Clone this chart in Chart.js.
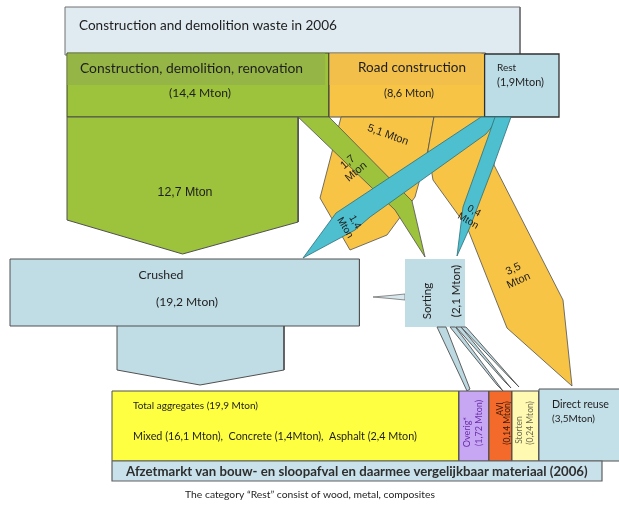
<!DOCTYPE html>
<html>
<head>
<meta charset="utf-8">
<script src="https://cdn.jsdelivr.net/npm/chart.js@4.4.1/dist/chart.umd.min.js"></script>
<style>
  html, body { margin: 0; padding: 0; background: #fff; overflow: hidden; }
  canvas { display: block; }
</style>
</head>
<body>
<canvas id="c" width="619" height="506"></canvas>
<script>
// Construction and demolition waste streams, 2006 (Mton)
const sourceNames = ['Construction, demolition, renovation', 'Road construction', 'Rest'];
const sourceValues = [14.4, 8.6, 1.9];

// Flows from the sources to processing / reuse
const flowFrom = ['Construction, demolition, renovation', 'Construction, demolition, renovation', 'Road construction', 'Road construction', 'Rest', 'Rest'];
const flowTo = ['Crushed', 'Sorting', 'Crushed', 'Direct reuse', 'Crushed', 'Sorting'];
const flowValues = [12.7, 1.7, 5.1, 3.5, 1.4, 0.4];

// Processing steps
const processNames = ['Crushed', 'Sorting'];
const processValues = [19.2, 2.1];

// Outlets (afzetmarkt)
const outletNames = ['Total aggregates', 'Overig*', 'AVI', 'Storten', 'Direct reuse'];
const outletValues = [19.9, 1.72, 0.14, 0.24, 3.5];
const aggregateNames = ['Mixed', 'Concrete', 'Asphalt'];
const aggregateValues = [16.1, 1.4, 2.4];

// ---------- helpers ----------
const nf = v => String(v).replace('.', ',');
const rect = (x0, y0, x1, y1) => [[x0, y0], [x1, y0], [x1, y1], [x0, y1]];

// ---------- diagram geometry (axis units) ----------
const K = 18.2;                       // width per Mton for the scaled streams
const X0 = 67;
const xGreenR = X0 + sourceValues[0] * K;
const xRoadR = xGreenR + sourceValues[1] * K;
const xArrowR = X0 + flowValues[0] * K;          // 12,7 Mton body
const x17R = xArrowR + flowValues[1] * K;        // 1,7 Mton strip
const x51L = xGreenR + 12;
const x51R = x51L + flowValues[2] * K;           // 5,1 Mton
const x35R = x51R + flowValues[3] * K;           // 3,5 Mton
const xCrushedR = 10 + processValues[0] * K;     // 19,2 Mton

const GREEN = '#9dc23c', GREEN_BAND = '#95b646';
const ORANGE = '#f7c446', ORANGE_BAND = '#f1bf4a';
const TEAL = '#4dbfce';
const PALE = '#c0dce5';
const EDGE = '#505050';

const shapes = [];
const add = (pts, fill, stroke, lw) => shapes.push({ pts, fill, stroke, lw });

add(rect(65, 7, 520, 55), '#dfeaf1', '#707070', 1);
add(rect(X0, 53, xGreenR, 117), GREEN, '#3c4620', 1);
add(rect(X0 + 0.5, 53.5, xGreenR - 4, 85), GREEN_BAND, null);
add(rect(xGreenR, 53, xRoadR, 117), ORANGE, EDGE, 1);
add(rect(xGreenR + 0.5, 53.5, xRoadR - 4, 85), ORANGE_BAND, null);
add(rect(xRoadR - 1, 54, 559, 117), '#bcdce6', '#303030', 1.3);

// road construction -> crushed
add([[x51L, 117], [x51R, 117], [428, 150], [415, 197], [387, 235], [350, 250], [320, 198]], ORANGE, EDGE, 0.8);
// road construction -> direct reuse
add([[x51R, 117], [x35R, 117], [494, 165], [563, 300], [572, 386], [507, 328], [467, 227], [433, 180], [428, 150]], ORANGE, EDGE, 0.8);
// construction -> crushed
add([[X0, 117], [xArrowR, 117], [xArrowR, 222], [(X0 + xArrowR) / 2, 254], [X0, 220]], GREEN, EDGE, 1);
// construction -> sorting
add([[xArrowR, 117], [x17R, 117], [412, 201], [425, 257], [395, 210]], GREEN, EDGE, 0.8);
// rest -> crushed
add([[481, 117], [500, 117], [486, 134], [370, 217], [355, 230], [303, 258], [336, 213]], TEAL, '#2f6f78', 0.8);
// rest -> sorting
add([[495, 117], [511, 117], [493, 167], [470, 227], [457, 256], [463, 207], [487, 140]], TEAL, '#2f6f78', 0.8);

// crushed -> aggregates
add([[117, 322], [284, 322], [284, 370], [200, 385], [117, 370]], PALE, EDGE, 1);
add(rect(10, 259, xCrushedR, 326), PALE, EDGE, 1);
// sorting -> crushed
add([[405, 294], [390, 295.5], [373, 297], [390, 298.5], [405, 300]], '#d8e8ee', '#707070', 0.8);
add(rect(405, 259, 465, 327), PALE, null);
// sorting -> outlets
add([[437, 327], [446, 327], [470, 389], [467, 391], [461, 378]], '#bcd8e0', EDGE, 0.9);
add([[450, 327], [455.5, 327], [503, 391], [497, 385]], '#bcd8e0', EDGE, 0.9);
add([[456, 327], [461, 327], [511, 388], [505, 382]], '#bcd8e0', EDGE, 0.9);
add([[461, 327], [466, 327], [519, 387], [513, 381]], '#bcd8e0', EDGE, 0.9);

// outlets
add(rect(112, 391, 459, 461), '#ffff42', EDGE, 1);
add(rect(459, 391, 489, 461), '#c7a6f3', EDGE, 1);
add(rect(489, 391, 512, 461), '#f36a2a', EDGE, 1);
add(rect(512, 391, 539, 461), '#fff9b2', EDGE, 1);
add(rect(539, 389, 622, 461), '#c3dfe8', EDGE, 1);
add(rect(112, 461, 602, 481), '#c8e1ea', '#606060', 1.2);

// ---------- labels ----------
const CAL = 'Lato, "Open Sans", sans-serif';
const ARI = '"Liberation Sans", Arial, sans-serif';
const aggLine = aggregateNames.map((n, i) => `${n} (${nf(aggregateValues[i])}${i === 1 ? '' : ' '}Mton)`).join(',  ');

// t: text (array = stacked lines), r: rotation in degrees, w: fitted width
const labels = [
  { t: 'Construction and demolition waste in 2006', x: 79, y: 26, s: 13, f: CAL, a: 'left', w: 258 },
  { t: sourceNames[0], x: 80, y: 69, s: 13, f: CAL, a: 'left', w: 223 },
  { t: `(${nf(sourceValues[0])} Mton)`, x: 200, y: 93, s: 11, f: CAL, w: 62 },
  { t: sourceNames[1], x: 412, y: 68, s: 13, f: CAL, w: 108 },
  { t: `(${nf(sourceValues[1])} Mton)`, x: 409, y: 93, s: 11, f: CAL },
  { t: sourceNames[2], x: 497, y: 68, s: 10, f: CAL, a: 'left' },
  { t: `(${nf(sourceValues[2])}Mton)`, x: 497, y: 82, s: 10, f: CAL, a: 'left', w: 47 },

  { t: `${nf(flowValues[0])} Mton`, x: 185, y: 193, s: 11, f: ARI, w: 55 },
  { t: `${nf(flowValues[2])} Mton`, x: 388, y: 135, s: 11, f: ARI, r: 20 },
  { t: [nf(flowValues[1]), 'Mton'], x: 352, y: 167, s: 11, f: ARI, r: -40 },
  { t: [nf(flowValues[4]), 'Mton'], x: 350, y: 225, s: 10, f: ARI, r: 60 },
  { t: [nf(flowValues[5]), 'Mton'], x: 471, y: 216, s: 10, f: ARI, r: 30 },
  { t: [nf(flowValues[3]), 'Mton'], x: 516, y: 275, s: 11, f: ARI, r: -25 },

  { t: processNames[0], x: 161, y: 275, s: 11, f: CAL, w: 45 },
  { t: `(${nf(processValues[0])} Mton)`, x: 187, y: 302, s: 11, f: CAL, w: 62 },
  { t: processNames[1], x: 427, y: 301, s: 11.5, f: CAL, r: -90 },
  { t: `(${nf(processValues[1])} Mton)`, x: 456, y: 291, s: 11.5, f: CAL, r: -90 },

  { t: `${outletNames[0]} (${nf(outletValues[0])} Mton)`, x: 133, y: 406, s: 10, f: CAL, a: 'left', w: 125 },
  { t: aggLine, x: 133, y: 437, s: 10, f: CAL, a: 'left', w: 284 },
  { t: outletNames[1], x: 467, y: 432, s: 9, f: CAL, r: -90, c: '#6a2fa8' },
  { t: `(${nf(outletValues[1])} Mton)`, x: 479, y: 423, s: 9, f: CAL, r: -90, c: '#6a2fa8' },
  { t: outletNames[2], x: 500, y: 409, s: 8.5, f: CAL, r: -90, c: '#3a1a08' },
  { t: `(${nf(outletValues[2])} Mton)`, x: 507, y: 423, s: 8.5, f: CAL, r: -90, c: '#3a1a08' },
  { t: outletNames[3], x: 519, y: 430, s: 8.5, f: CAL, r: -90, c: '#6d6d50' },
  { t: `(${nf(outletValues[3])} Mton)`, x: 530, y: 423, s: 8.5, f: CAL, r: -90, c: '#6d6d50' },
  { t: outletNames[4], x: 552, y: 405, s: 10, f: CAL, a: 'left', w: 57 },
  { t: `(${nf(outletValues[4])}Mton)`, x: 552, y: 419, s: 10, f: CAL, a: 'left' },

  { t: 'Afzetmarkt van bouw- en sloopafval en daarmee vergelijkbaar materiaal (2006)', x: 126, y: 471.5, s: 11.5, f: CAL, a: 'left', b: true, w: 462, c: '#2e2e2e' },
  { t: 'The category \u201CRest\u201D consist of wood, metal, composites', x: 310, y: 495, s: 10, f: CAL, w: 250 }
];

// fills each closed outline using the points placed by the scales
const polygonFill = {
  id: 'polygonFill',
  beforeDatasetDraw(chart, args) {
    const ds = chart.data.datasets[args.index];
    const pts = args.meta.data;
    if (!ds.areaColor || !pts.length) return;
    const ctx = chart.ctx;
    ctx.save();
    ctx.beginPath();
    pts.forEach((p, i) => (i ? ctx.lineTo(p.x, p.y) : ctx.moveTo(p.x, p.y)));
    ctx.closePath();
    ctx.fillStyle = ds.areaColor;
    ctx.fill();
    ctx.restore();
  }
};

const textLabels = {
  id: 'textLabels',
  afterDatasetsDraw(chart) {
    const ctx = chart.ctx;
    const sx = chart.scales.x, sy = chart.scales.y;
    labels.forEach(l => {
      const weight = l.b ? 'bold ' : '';
      const lines = Array.isArray(l.t) ? l.t : [l.t];
      let size = l.s;
      ctx.font = `${weight}${size}px ${l.f}`;
      if (l.w) {
        size = size * l.w / ctx.measureText(lines[0]).width;
        ctx.font = `${weight}${size.toFixed(2)}px ${l.f}`;
      }
      const lh = size * 1.15;
      ctx.save();
      ctx.translate(sx.getPixelForValue(l.x), sy.getPixelForValue(l.y));
      if (l.r) ctx.rotate(l.r * Math.PI / 180);
      ctx.fillStyle = l.c || '#1e1e1e';
      ctx.textAlign = l.a || 'center';
      ctx.textBaseline = 'middle';
      lines.forEach((line, i) => ctx.fillText(line, 0, (i - (lines.length - 1) / 2) * lh));
      ctx.restore();
    });
  }
};

new Chart(document.getElementById('c'), {
  type: 'scatter',
  data: {
    datasets: shapes.map((s, i) => ({
      label: 'shape' + i,
      data: [...s.pts, s.pts[0]].map(([x, y]) => ({ x, y })),
      showLine: true,
      fill: false,
      tension: 0,
      areaColor: s.fill,
      borderColor: s.stroke || 'rgba(0,0,0,0)',
      borderWidth: s.stroke ? s.lw : 0,
      borderJoinStyle: 'miter',
      pointRadius: 0,
      pointHoverRadius: 0,
      order: shapes.length - i
    }))
  },
  options: {
    responsive: false,
    animation: false,
    devicePixelRatio: 1,
    events: [],
    layout: { padding: 0 },
    plugins: { legend: { display: false }, tooltip: { enabled: false } },
    scales: {
      x: { type: 'linear', min: 0, max: 619, display: false },
      y: { type: 'linear', min: 0, max: 506, reverse: true, display: false }
    }
  },
  plugins: [polygonFill, textLabels]
});
</script>
</body>
</html>
